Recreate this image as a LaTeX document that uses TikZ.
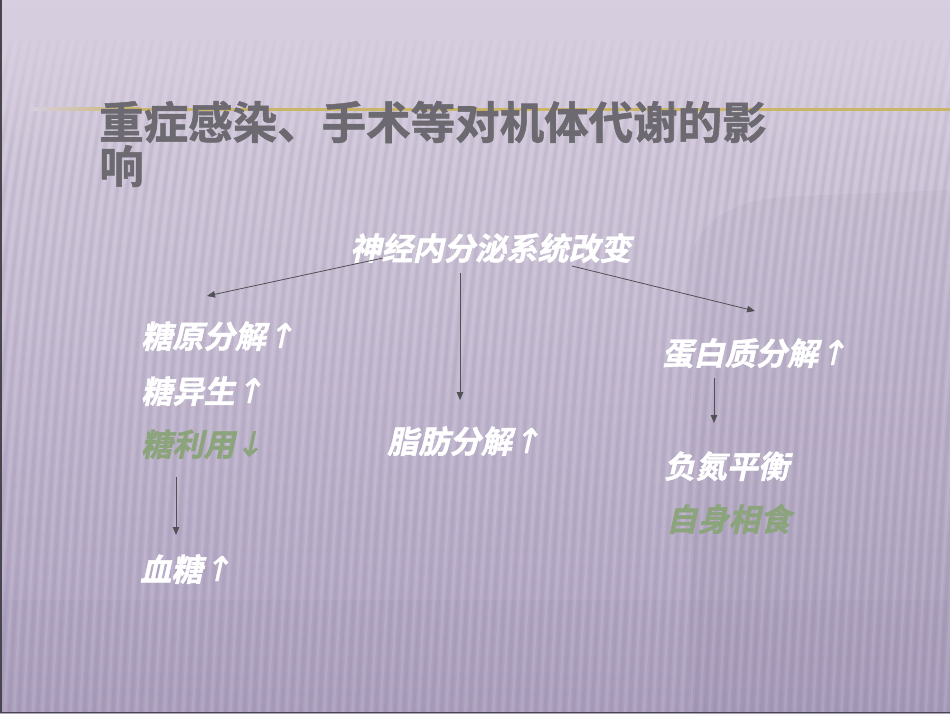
\documentclass[tikz,border=0pt]{standalone}
\usepackage{fontspec}
\newfontfamily\cjkt{Noto Sans CJK SC Bold}[FakeBold=1.2]
\newfontfamily\cjki{Noto Sans CJK SC Bold}[FakeSlant=0.22,FakeBold=1.4]
\newfontfamily\arrowf{DejaVu Sans}[FakeSlant=0.22,FakeBold=1]
\newcommand{\upar}{{\arrowf\fontsize{34}{36}\selectfont ↑}}
\newcommand{\dnar}{{\arrowf\fontsize{34}{36}\selectfont ↓}}
\usetikzlibrary{arrows.meta,fadings}
\definecolor{bgtop}{RGB}{215,207,223}
\definecolor{bgmid}{RGB}{202,192,215}
\definecolor{bgbot}{RGB}{174,162,192}
\definecolor{stripedark}{RGB}{95,80,115}
\definecolor{titlegray}{RGB}{108,106,112}
\definecolor{goldline}{RGB}{202,182,102}
\definecolor{greentext}{RGB}{140,164,124}
\definecolor{arrowgray}{RGB}{80,80,85}
\definecolor{framegray}{RGB}{70,70,76}
\tikzfading[name=fadeout, top color=transparent!0, bottom color=transparent!100]
\tikzset{
  titletext/.style={anchor=base west, inner sep=0pt, text=titlegray, font=\cjkt\fontsize{44.5}{50}\selectfont},
  bodytext/.style={anchor=base west, inner sep=0pt, text=white, font=\cjki\fontsize{31.2}{36}\selectfont},
  greenbody/.style={bodytext, text=greentext},
  conn/.style={draw=arrowgray, line width=0.8pt, -{Triangle[length=8pt,width=6.5pt]}},
  darkstripe/.style={stripedark, opacity=0.08, line width=3.4pt},
  lightstripe/.style={white, opacity=0.09, line width=2.4pt}
}
\begin{document}
\begin{tikzpicture}[x=1pt,y=-1pt]
\useasboundingbox (0,0) rectangle (950,713);
% background
\shade[top color=bgtop, middle color=bgmid, bottom color=bgbot] (0,0) rectangle (950,713);
\fill[stripedark, opacity=0.05] (690,713) -- (690,260) .. controls (700,215) and (740,198) .. (800,196) -- (950,190) -- (950,713) -- cycle;
\fill[stripedark, opacity=0.03] (0,600) rectangle (950,713);
% stripes
\begin{scope}
\clip (0,0) rectangle (950,713);
\foreach \i in {-12,...,102} {
  \pgfmathsetmacro\xx{\i*9.4}
  \draw[darkstripe] (\xx,713) .. controls (\xx+15,420) and (\xx+30,220) .. (\xx+68,40);
  \draw[lightstripe] (\xx+4.7,713) .. controls (\xx+19.7,420) and (\xx+34.7,220) .. (\xx+72.7,40);
}
\end{scope}
\fill[bgtop, path fading=fadeout] (0,0) rectangle (950,150);
% frame
\draw[framegray, line width=1.5pt] (0.75,0) -- (0.75,712.25) -- (950,712.25);
% gold line
\shade[left color=bgtop, right color=goldline] (30,107.5) rectangle (140,110.5);
\fill[goldline] (140,107.5) rectangle (950,110.5);
% title
\node[titletext] (title1) at (99,139) {重症感染、手术等对机体代谢的影};
\node[titletext] (title2) at (99,183) {响};
% body
\node[bodytext] (neuro) at (350,260) {神经内分泌系统改变};
\node[bodytext] (glyco) at (141,348) {糖原分解\upar};
\node[bodytext] (gluconeo) at (141,403) {糖异生\upar};
\node[greenbody] (use) at (141,456) {糖利用\dnar};
\node[bodytext] (blood) at (140,581) {血糖\upar};
\node[bodytext] (fat) at (387,453) {脂肪分解\upar};
\node[bodytext] (protein) at (662,365) {蛋白质分解\upar};
\node[bodytext] (nitro) at (664,478) {负氮平衡};
\node[greenbody] (auto) at (666,531) {自身相食};
% connector ends
\coordinate (nL) at (383,258);
\coordinate (nC) at (460,273);
\coordinate (nR) at (572,266);
\coordinate (gT) at (207,296);
\coordinate (fT) at (460,400);
\coordinate (pT) at (755,311);
\coordinate (pS) at (714,378);
\coordinate (nT) at (714,423);
\coordinate (uS) at (176,477);
\coordinate (bT) at (176,535);
\draw[conn] (nL) -- (gT);
\draw[conn] (nC) -- (fT);
\draw[conn] (nR) -- (pT);
\draw[conn] (pS) -- (nT);
\draw[conn] (uS) -- (bT);
\end{tikzpicture}
\end{document}
